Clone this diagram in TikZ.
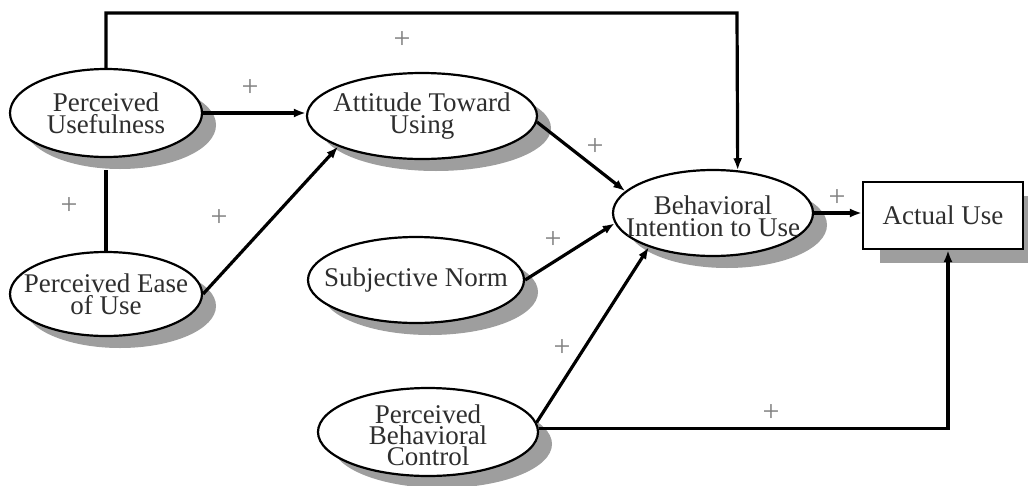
\documentclass[tikz,border=0pt]{standalone}
\usepackage{fontspec}
\setmainfont{Liberation Serif}
\usetikzlibrary{shapes.geometric,shadows,arrows.meta}
\begin{document}
\begin{tikzpicture}[x=1pt,y=-1pt,
  construct/.style={ellipse, draw, line width=2.2pt, fill=white, inner sep=0pt,
    drop shadow={shadow xshift=14pt, shadow yshift=-12pt, fill=black!38, opacity=1}},
  outcome/.style={rectangle, draw, line width=2.2pt, fill=white, inner sep=0pt,
    minimum width=160pt, minimum height=67pt,
    drop shadow={shadow xshift=17pt, shadow yshift=-14pt, fill=black!38, opacity=1}},
  txt/.style={font=\fontsize{27}{22}\selectfont, text=black!82, align=center},
  link/.style={line width=3.2pt, -{Latex[length=12pt,width=9pt]}},
  plain/.style={line width=3.2pt},
  sign/.style={font=\fontsize{30}{30}\selectfont, text=black!50, inner sep=0pt}]
\useasboundingbox (0,0) rectangle (1028,485);
\clip (0,0) rectangle (1028,485);

% constructs
\node[construct, minimum width=192pt, minimum height=88pt] (PU) at (106,113) {};
\node[construct, minimum width=192pt, minimum height=84pt] (PEOU) at (106,294) {};
\node[construct, minimum width=230pt, minimum height=86pt] (ATU) at (422,116) {};
\node[construct, minimum width=216pt, minimum height=86pt] (SN) at (416,280) {};
\node[construct, minimum width=220pt, minimum height=88pt] (PBC) at (428,432) {};
\node[construct, minimum width=200pt, minimum height=86pt] (BI) at (713,213) {};
\node[outcome] (AU) at (943,215.5) {};

% construct names
\node[txt] (PUt) at (PU) {Perceived\\Usefulness};
\node[txt] (PEOUt) at (PEOU) {Perceived Ease\\of Use};
\node[txt] (ATUt) at (ATU) {Attitude Toward\\Using};
\node[txt] (SNt) at (SN) {Subjective Norm};
\node[txt, font=\fontsize{27}{21}\selectfont] (PBCt) at ([yshift=-3pt]PBC) {Perceived\\Behavioral\\Control};
\node[txt] (BIt) at ([yshift=-3pt]BI) {Behavioral\\Intention to Use};
\node[txt] (AUt) at (AU) {Actual Use};

% paths
\coordinate (topR) at (737,13);
\draw[link] (PU.north) |- (topR) -- (BI.60);
\draw[link] (PU.east) -- (ATU.west |- PU.east);
\draw[plain] ([yshift=-12pt]PU.south) -- (PEOU.north);
\draw[link] (PEOU.east) -- (ATU.200);
\draw[link] (ATU.-3) -- (BI.166);
\draw[link] (SN.east) -- (BI.186);
\draw[link] (PBC.5) -- (BI.208);
\draw[link] (PBC.2) -| ([xshift=5pt]AU.south);
\draw[link] (BI.east) -- (BI.east -| AU.west);

% signs
\node[sign] (s1) at (402,40) {+};
\node[sign] (s2) at (250,88) {+};
\node[sign] (s3) at (69,206) {+};
\node[sign] (s4) at (219,218) {+};
\node[sign] (s5) at (595,147) {+};
\node[sign] (s6) at (553,240) {+};
\node[sign] (s7) at (562,348) {+};
\node[sign] (s8) at (837,198) {+};
\node[sign] (s9) at (771,413) {+};
\end{tikzpicture}
\end{document}
